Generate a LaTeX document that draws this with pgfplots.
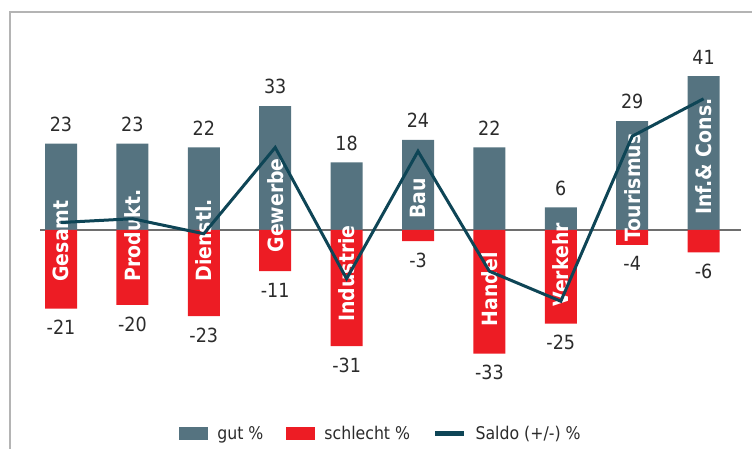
\documentclass[border=0pt]{standalone}
\usepackage{fontspec}
\setmainfont{DejaVu Sans Condensed}
\usepackage{pgfplots}
\pgfplotsset{compat=1.18}
\definecolor{gutc}{HTML}{557380}
\definecolor{badc}{HTML}{ED1C24}
\definecolor{saldoc}{HTML}{0E4556}
\definecolor{framec}{HTML}{B4B4B4}
\definecolor{txtc}{HTML}{2B2B2B}
\definecolor{zeroc}{HTML}{6E6E6E}
\newcommand{\numfont}{\fontsize{19.5bp}{22bp}\selectfont}
\newcommand{\catfont}{\fontsize{21bp}{24bp}\selectfont\bfseries}
\begin{document}
\begin{tikzpicture}
\useasboundingbox (0,0) rectangle (752bp,449bp);
\clip (0,0) rectangle (752bp,449bp);
\draw[framec, line width=1.5bp] (10bp,-5bp) -- (10bp,437bp) -- (770bp,437bp);
\begin{axis}[
  at={(25.3bp,69bp)}, anchor=south west,
  x=71.4bp, y=3.75bp,
  xmin=-0.5, xmax=9.8, ymin=-40, ymax=50,
  axis lines=none, ticks=none,
  clip=false,
  legend columns=3,
  legend style={at={(0.4823,-0.1585)}, anchor=center, draw=none, fill=none,
    font=\fontsize{17.5bp}{20bp}\selectfont, text=txtc, inner sep=0pt,
    nodes={inner xsep=0pt, inner ysep=1bp},
    /tikz/every odd column/.append style={column sep=9bp},
    /tikz/every even column/.append style={column sep=23bp}},
]
\draw[zeroc, line width=1.1bp] (axis cs:-0.294,0) -- (axis cs:9.52,0);
\addplot[ybar, bar width=32bp, bar shift=0pt, fill=gutc, draw=none,
  point meta=explicit symbolic, nodes near coords,
  nodes near coords style={font=\numfont, text=txtc, anchor=south, inner ysep=12bp},
  legend image code/.code={\fill[gutc] (0bp,-6.5bp) rectangle (29bp,6.5bp);}]
coordinates {(0,23)[23] (1,23)[23] (2,22)[22] (3,33)[33] (4,18)[18]
             (5,24)[24] (6,22)[22] (7,6)[6] (8,29)[29] (9,41)[41]};
\addlegendentry{gut \%}
\addplot[ybar, bar width=32bp, bar shift=0pt, fill=badc, draw=none,
  point meta=explicit symbolic, nodes near coords,
  nodes near coords style={font=\numfont, text=txtc, anchor=north, inner ysep=11.5bp},
  legend image code/.code={\fill[badc] (0bp,-6.5bp) rectangle (29bp,6.5bp);}]
coordinates {(0,-21)[-21] (1,-20)[-20] (2,-23)[-23] (3,-11)[-11] (4,-31)[-31]
             (5,-3)[-3] (6,-33)[-33] (7,-25)[-25] (8,-4)[-4] (9,-6)[-6]};
\addlegendentry{schlecht \%}
\begin{scope}[every node/.style={rotate=90, anchor=west, inner sep=0pt, text=white, font=\catfont}]
\node at (axis cs:0,-13.8) {Gesamt};
\node at (axis cs:1,-13.8) {Produkt.};
\node at (axis cs:2,-13.8) {Dienstl.};
\node at (axis cs:3,-6.05) {Gewerbe};
\node at (axis cs:4,-24.5) {Industrie};
\node at (axis cs:5,2.9) {Bau};
\node at (axis cs:6,-25.8) {Handel};
\node at (axis cs:7,-20.4) {Verkehr};
\node at (axis cs:8,-3.1) {Tourismus};
\node at (axis cs:9,4.0) {Inf.\& Cons.};
\end{scope}
\addplot[sharp plot, saldoc, line width=3bp, mark=none,
  legend image code/.code={\draw[saldoc, line width=4.5bp] (0bp,0bp) -- (29bp,0bp);}]
coordinates {(0,2) (1,3) (2,-1) (3,22) (4,-13) (5,21) (6,-11) (7,-19) (8,25) (9,35)};
\addlegendentry{Saldo (+/-) \%}
\end{axis}
\end{tikzpicture}
\end{document}
